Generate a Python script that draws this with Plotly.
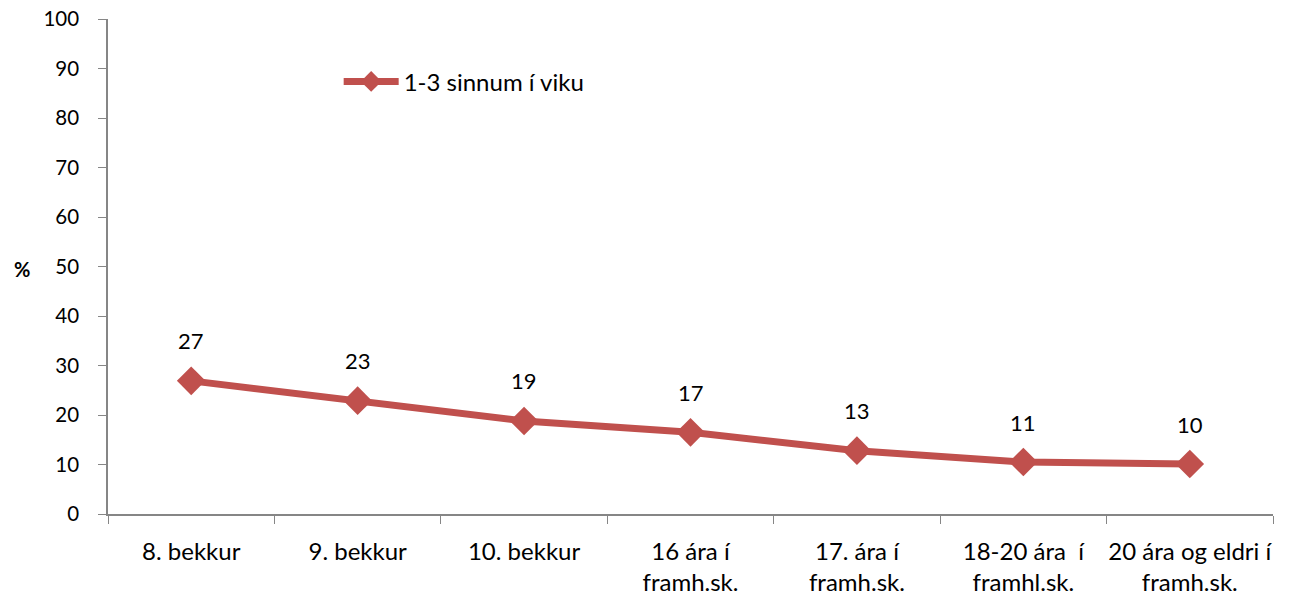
import plotly.graph_objects as go

categories = ["8. bekkur", "9. bekkur", "10. bekkur", "16 ára í<br>framh.sk.",
              "17. ára í<br>framh.sk.", "18-20 ára  í<br>framhl.sk.", "20 ára og eldri í<br>framh.sk."]
values = [26.9, 22.9, 18.8, 16.5, 12.8, 10.5, 10.1]
labels = ["27", "23", "19", "17", "13", "11", "10"]
series_name = "1-3 sinnum í viku"
y_ticks = list(range(0, 101, 10))

color = "#C0504D"
font_family = "Lato, 'Open Sans', sans-serif"
fs_num = 22
fs_ytick = 20.5
fs_txt = 24

fig = go.Figure()
fig.add_trace(go.Scatter(
    x=categories, y=values, mode="lines+markers", name=series_name,
    line=dict(color=color, width=7),
    marker=dict(symbol="diamond", size=22, color=color),
))

for c, v, t in zip(categories, values, labels):
    fig.add_annotation(x=c, y=v, text=t, showarrow=False, yshift=40,
                       font=dict(size=fs_num, color="black", family=font_family))

fig.add_annotation(xref="paper", yref="paper", x=-0.074, y=0.495, xanchor="center",
                   text="<b>%</b>", showarrow=False,
                   font=dict(size=20, color="black", family=font_family))

fig.update_layout(
    width=1292, height=595,
    margin=dict(l=108, r=19, t=19, b=81, autoexpand=False),
    paper_bgcolor="white", plot_bgcolor="white",
    font=dict(family=font_family, size=fs_txt, color="black"),
    showlegend=True,
    legend=dict(x=0.198, y=0.873, xanchor="left", yanchor="middle",
                bgcolor="rgba(0,0,0,0)", font=dict(size=fs_txt), itemwidth=55),
)
fig.update_xaxes(type="category", range=[-0.5, 6.5], tickson="boundaries",
                 ticks="outside", ticklen=8, tickcolor="#868686", tickangle=0,
                 showline=True, linecolor="#868686", linewidth=1.5,
                 showgrid=False, zeroline=False, tickfont=dict(size=fs_txt),
                 automargin=False, ticklabelstandoff=15, ticklabeloverflow="allow")
fig.update_yaxes(range=[0, 100], tickvals=y_ticks, ticks="outside", ticklen=8,
                 tickcolor="#868686", showline=True, linecolor="#868686", linewidth=1.5,
                 showgrid=False, zeroline=False, ticklabelstandoff=15,
                 tickfont=dict(size=fs_ytick), automargin=False, ticklabeloverflow="allow")

fig.write_html("out.html", config={"displayModeBar": False},
               post_script="document.body.style.margin='0';")
